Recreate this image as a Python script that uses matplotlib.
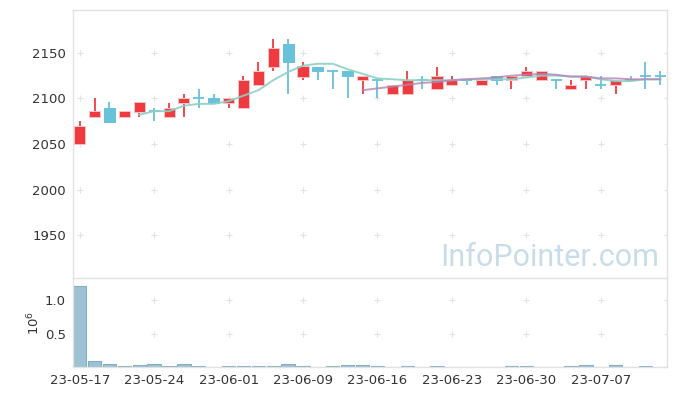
import matplotlib
matplotlib.use("Agg")
import matplotlib.pyplot as plt
import numpy as np

# trading days (x axis is the trading-day index)
dates = ["23-05-17", "23-05-18", "23-05-19", "23-05-22", "23-05-23", "23-05-24", "23-05-25", "23-05-26",
         "23-05-30", "23-05-31", "23-06-01", "23-06-02", "23-06-05", "23-06-07", "23-06-08", "23-06-09",
         "23-06-12", "23-06-13", "23-06-14", "23-06-15", "23-06-16", "23-06-19", "23-06-20", "23-06-21",
         "23-06-22", "23-06-23", "23-06-26", "23-06-27", "23-06-28", "23-06-29", "23-06-30", "23-07-03",
         "23-07-04", "23-07-05", "23-07-06", "23-07-07", "23-07-10", "23-07-11", "23-07-12", "23-07-13"]

opens = [2050, 2080, 2090, 2080, 2085, 2086, 2080, 2095, 2100, 2100,
         2095, 2090, 2115, 2135, 2160, 2124, 2135, 2130, 2130, 2120,
         2120, 2105, 2105, 2120, 2110, 2115, 2120, 2115, 2125, 2120,
         2125, 2120, 2120, 2110, 2120, 2115, 2115, 2120, 2125, 2125]
highs = [2075, 2100, 2096, 2086, 2096, 2090, 2095, 2105, 2110, 2105,
         2100, 2125, 2140, 2165, 2165, 2140, 2135, 2130, 2130, 2125,
         2120, 2115, 2130, 2125, 2135, 2125, 2120, 2120, 2125, 2125,
         2135, 2130, 2120, 2120, 2125, 2125, 2120, 2125, 2140, 2130]
lows = [2050, 2080, 2074, 2080, 2080, 2075, 2080, 2080, 2090, 2095,
        2090, 2090, 2115, 2130, 2105, 2120, 2120, 2110, 2100, 2105,
        2100, 2105, 2105, 2110, 2110, 2115, 2115, 2115, 2115, 2110,
        2125, 2120, 2110, 2110, 2110, 2110, 2105, 2120, 2110, 2115]
closes = [2070, 2086, 2074, 2086, 2096, 2086, 2090, 2100, 2100, 2095,
          2100, 2120, 2130, 2155, 2140, 2136, 2130, 2130, 2125, 2125,
          2120, 2115, 2120, 2120, 2125, 2120, 2120, 2120, 2120, 2125,
          2130, 2130, 2120, 2115, 2125, 2115, 2120, 2120, 2125, 2125]

# moving averages (5-day from day 4, 20-day from day 19)
ma5 = [2082, 2086, 2086, 2092, 2094, 2094, 2097, 2103, 2109, 2120,
       2129, 2136, 2138, 2138, 2132, 2127, 2122, 2121, 2120, 2120,
       2120, 2120, 2121, 2121, 2121, 2121, 2123, 2125, 2125, 2124,
       2124, 2121, 2119, 2119, 2121, 2121]
ma20 = [2109, 2111, 2113, 2115, 2117, 2118, 2120, 2121, 2122, 2123,
        2125, 2126, 2127, 2126, 2124, 2124, 2122, 2122, 2121, 2121, 2121]

# volume in millions
volume = [1.215, 0.09, 0.05, 0.02, 0.035, 0.05, 0.02, 0.05, 0.02, 0.0,
          0.02, 0.02, 0.02, 0.02, 0.05, 0.02, 0.0, 0.02, 0.035, 0.035,
          0.02, 0.0, 0.02, 0.0, 0.02, 0.0, 0.0, 0.0, 0.0, 0.02,
          0.02, 0.0, 0.0, 0.02, 0.035, 0.0, 0.035, 0.0, 0.02, 0.0]

UP = "#EF3B3F"
DOWN = "#68C2DA"
GRID = "#E2E2E2"
SPINE = "#E2E2E2"

fig = plt.figure(figsize=(6.77, 3.96), dpi=100, facecolor="white")
ax = fig.add_axes([73 / 677, 1 - 278 / 396, 594 / 677, 268 / 396])
axv = fig.add_axes([73 / 677, 1 - 367.3 / 396, 594 / 677, 89.3 / 396])

x = np.arange(len(dates))
xticks = x[::5]
yticks = [1950, 2000, 2050, 2100, 2150]

# grid as small '+' marks at the tick crossings
gx, gy = np.meshgrid(np.append(xticks, 39.45), yticks + [2200])
ax.plot(gx.ravel(), gy.ravel(), "+", color=GRID, ms=4, mew=0.8, zorder=0)
gx, gy = np.meshgrid(np.append(xticks, 39.45), [0.5, 1.0])
axv.plot(gx.ravel(), gy.ravel(), "+", color=GRID, ms=4, mew=0.8, zorder=0)

# candles
w = 0.74
for i in x:
    o, h, l, c = opens[i], highs[i], lows[i], closes[i]
    col = UP if c > o else DOWN
    ax.vlines(i, l, h, color=col, lw=1.3, zorder=2)
    if c == o:
        ax.hlines(c, i - w / 2, i + w / 2, color=col, lw=1.3, zorder=3)
    else:
        ax.bar(i, abs(c - o), bottom=min(o, c), width=w, color=col,
               edgecolor="#F6C4C6" if c > o else DOWN, lw=0.7, zorder=3)

ax.plot(x[4:], ma5, color="#8ED0C6", lw=1.4, alpha=0.9, zorder=4)
ax.plot(x[19:], ma20, color="#B683B6", lw=1.4, alpha=0.8, zorder=4)

ax.set_xlim(-0.45, 39.45)
ax.set_ylim(1903, 2197)
ax.set_yticks(yticks)
ax.set_xticks(xticks)
ax.tick_params(axis="x", labelbottom=False, length=0)
ax.tick_params(axis="y", length=0, pad=5, labelsize=9.5, labelcolor="#333333")

# volume
axv.bar(x, volume, width=0.9, color="#9CC2D3", edgecolor="#82ADC2", lw=0.8, zorder=2)
axv.set_xlim(-0.45, 39.45)
axv.set_ylim(0, 1.335)
axv.set_yticks([0.5, 1.0])
axv.set_yticklabels(["0.5", "1.0"])
axv.set_xticks(xticks)
axv.set_xticklabels([dates[i] for i in xticks])
axv.tick_params(length=0, pad=5, labelsize=9.5, labelcolor="#333333")
axv.set_ylabel(r"$\mathregular{10^6}$", fontsize=9.5, color="#333333", labelpad=2)

for a in (ax, axv):
    for s in a.spines.values():
        s.set_color(SPINE)
        s.set_linewidth(1.0)
ax.spines["bottom"].set_visible(False)

fig.text(659 / 677, 130 / 396, "InfoPointer.com", ha="right", va="baseline",
         fontsize=22, family="Roboto", color="#C8DDE8")

plt.savefig("out.png", dpi=100, facecolor="white")
